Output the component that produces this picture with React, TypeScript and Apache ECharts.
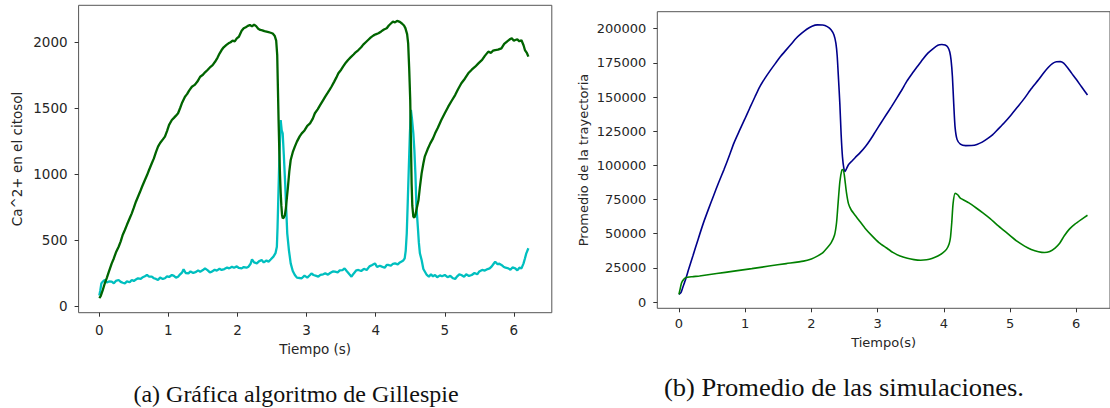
import React, { useEffect, useRef } from "react";
import * as echarts from "echarts";

// ---------- Data: (a) Gillespie stochastic trajectory ----------
const gillespieCytosol: [number, number][] = [
  [0,60],[0.02,75],[0.05,120],[0.08,172],[0.11,215],[0.14,262],[0.18,323],[0.21,360],[0.24,405],[0.28,449],[0.31,490],[0.34,540],[0.37,576],[0.40,615],[0.44,665],[0.47,702],[0.50,745],[0.53,790],[0.56,828],[0.59,865],[0.62,905],[0.66,955],[0.69,990],[0.72,1030],[0.76,1081],[0.79,1118],[0.82,1165],[0.85,1207],[0.88,1235],[0.92,1262],[0.95,1283],[0.98,1325],[1.01,1372],[1.05,1409],[1.08,1425],[1.11,1442],[1.14,1460],[1.17,1500],[1.20,1542],[1.24,1586],[1.27,1605],[1.30,1632],[1.34,1661],[1.38,1675],[1.42,1700],[1.46,1737],[1.50,1752],[1.53,1770],[1.57,1790],[1.61,1812],[1.64,1825],[1.675,1850],[1.71,1880],[1.74,1912],[1.77,1939],[1.80,1960],[1.84,1978],[1.87,1990],[1.90,1998],[1.93,2010],[1.96,2005],[1.99,2028],[2.02,2040],[2.06,2085],[2.09,2104],[2.12,2112],[2.15,2122],[2.18,2129],[2.21,2118],[2.24,2132],[2.27,2120],[2.30,2100],[2.33,2091],[2.36,2088],[2.39,2082],[2.42,2078],[2.45,2074],[2.48,2070],[2.51,2064],[2.54,2045],[2.56,2010],[2.575,1900],[2.585,1650],[2.595,1400],[2.605,1182],[2.615,1000],[2.625,860],[2.635,760],[2.645,690],[2.655,664],[2.67,670],[2.685,685],[2.70,740],[2.715,820],[2.73,900],[2.75,1020],[2.77,1106],[2.80,1165],[2.83,1207],[2.86,1245],[2.90,1285],[2.93,1308],[2.97,1330],[3.01,1365],[3.05,1384],[3.09,1420],[3.12,1460],[3.16,1490],[3.20,1525],[3.24,1560],[3.27,1586],[3.30,1610],[3.33,1635],[3.36,1661],[3.40,1700],[3.43,1730],[3.46,1763],[3.50,1790],[3.53,1815],[3.57,1845],[3.60,1864],[3.64,1885],[3.68,1905],[3.71,1922],[3.75,1939],[3.79,1960],[3.82,1980],[3.86,2000],[3.89,2015],[3.93,2035],[3.97,2050],[4.00,2058],[4.04,2066],[4.08,2080],[4.12,2095],[4.16,2104],[4.19,2125],[4.22,2140],[4.25,2154],[4.28,2148],[4.31,2160],[4.35,2152],[4.38,2140],[4.41,2125],[4.43,2105],[4.455,2060],[4.47,1990],[4.485,1800],[4.50,1561],[4.51,1250],[4.52,929],[4.53,760],[4.545,677],[4.56,670],[4.575,690],[4.59,730],[4.62,803],[4.64,900],[4.665,1005],[4.69,1080],[4.71,1131],[4.75,1185],[4.79,1232],[4.83,1270],[4.86,1308],[4.90,1350],[4.95,1409],[5.00,1460],[5.05,1510],[5.10,1555],[5.15,1598],[5.19,1640],[5.24,1687],[5.29,1722],[5.34,1763],[5.39,1790],[5.44,1813],[5.49,1840],[5.54,1864],[5.58,1895],[5.63,1927],[5.67,1918],[5.70,1935],[5.73,1939],[5.77,1942],[5.80,1948],[5.82,1952],[5.86,1985],[5.90,2003],[5.94,2020],[5.97,2028],[6.00,2010],[6.02,2015],[6.05,2020],[6.08,2005],[6.11,2013],[6.14,1975],[6.16,1939],[6.19,1915],[6.21,1889],
];

const gillespieOther: [number, number][] = [
  [0,80],[0.015,120],[0.03,171],[0.05,185],[0.08,197],[0.11,178],[0.14,186],[0.18,184],[0.21,172],[0.24,190],[0.28,197],[0.31,183],[0.34,176],[0.37,171],[0.40,186],[0.44,180],[0.47,197],[0.50,190],[0.53,200],[0.56,210],[0.60,205],[0.63,218],[0.66,225],[0.69,235],[0.72,222],[0.76,222],[0.79,210],[0.82,205],[0.85,197],[0.88,215],[0.92,205],[0.95,210],[0.98,225],[1.01,220],[1.05,235],[1.08,228],[1.11,215],[1.14,222],[1.17,240],[1.20,255],[1.22,278],[1.25,250],[1.29,247],[1.32,262],[1.36,250],[1.40,258],[1.43,270],[1.46,260],[1.50,272],[1.53,285],[1.57,270],[1.60,255],[1.63,260],[1.67,275],[1.70,268],[1.74,282],[1.77,273],[1.81,280],[1.85,292],[1.88,285],[1.92,298],[1.95,290],[1.99,300],[2.02,288],[2.06,285],[2.09,295],[2.13,290],[2.16,298],[2.19,320],[2.21,354],[2.24,330],[2.28,323],[2.31,338],[2.35,348],[2.38,330],[2.42,345],[2.45,336],[2.48,352],[2.52,374],[2.55,400],[2.57,449],[2.58,600],[2.59,803],[2.605,1100],[2.625,1409],[2.64,1330],[2.654,1308],[2.67,1150],[2.69,929],[2.705,740],[2.72,551],[2.745,420],[2.77,323],[2.80,265],[2.83,235],[2.86,215],[2.90,212],[2.93,210],[2.97,230],[3.01,215],[3.05,235],[3.07,247],[3.10,235],[3.14,228],[3.17,222],[3.20,235],[3.24,240],[3.27,247],[3.31,238],[3.34,250],[3.38,262],[3.41,260],[3.45,255],[3.48,270],[3.52,272],[3.55,285],[3.58,265],[3.62,240],[3.65,222],[3.68,245],[3.72,270],[3.75,273],[3.79,265],[3.83,282],[3.87,273],[3.91,300],[3.95,310],[3.99,323],[4.02,295],[4.06,305],[4.09,298],[4.13,290],[4.16,311],[4.18,311],[4.22,305],[4.25,320],[4.28,323],[4.32,315],[4.35,330],[4.37,336],[4.40,345],[4.42,361],[4.435,420],[4.45,551],[4.465,800],[4.48,1055],[4.495,1300],[4.51,1485],[4.525,1420],[4.545,1308],[4.56,1180],[4.575,1000],[4.59,752],[4.61,600],[4.625,480],[4.64,399],[4.665,348],[4.69,280],[4.74,235],[4.77,222],[4.80,240],[4.83,225],[4.86,235],[4.89,218],[4.93,232],[4.96,225],[5.00,235],[5.04,218],[5.08,228],[5.12,210],[5.15,205],[5.18,225],[5.21,240],[5.24,235],[5.28,222],[5.31,240],[5.35,228],[5.39,235],[5.43,250],[5.47,240],[5.50,262],[5.54,273],[5.58,268],[5.62,280],[5.65,285],[5.68,300],[5.71,322],[5.73,336],[5.76,318],[5.79,320],[5.82,311],[5.85,298],[5.88,290],[5.92,285],[5.95,275],[5.98,292],[6.02,285],[6.05,270],[6.08,290],[6.11,285],[6.14,323],[6.16,360],[6.18,399],[6.21,437],
];

// ---------- Data: (b) average of simulations ----------
const avgBlue: [number, number][] = [
  [0,5600],[0.03,6800],[0.06,11000],[0.10,16500],[0.15,24500],[0.21,33600],[0.29,46000],[0.37,57900],[0.45,68500],[0.52,77400],[0.60,87500],[0.68,96900],[0.76,107000],[0.83,116300],[0.91,125000],[0.99,133400],[1.07,142000],[1.15,150400],[1.22,157500],[1.30,163800],[1.38,169500],[1.46,174800],[1.54,180000],[1.62,184500],[1.70,189000],[1.77,193000],[1.85,196500],[1.93,199600],[2.01,201800],[2.09,202800],[2.17,202700],[2.24,201500],[2.30,199100],[2.34,195500],[2.37,189400],[2.39,180000],[2.41,163000],[2.43,145000],[2.45,122000],[2.47,106000],[2.49,98000],[2.51,95600],[2.53,97500],[2.56,100500],[2.61,103000],[2.66,105600],[2.74,109500],[2.82,114000],[2.90,119500],[2.97,124900],[3.05,131000],[3.13,137000],[3.21,143000],[3.29,149200],[3.37,155500],[3.44,161400],[3.52,167000],[3.60,172300],[3.68,177500],[3.76,182100],[3.84,185500],[3.91,187900],[3.97,188400],[4.02,188000],[4.06,186500],[4.09,183000],[4.11,177000],[4.13,165000],[4.15,145000],[4.17,128000],[4.20,119000],[4.25,115500],[4.33,114400],[4.42,114500],[4.50,115300],[4.58,117000],[4.66,119500],[4.74,122500],[4.82,126500],[4.91,131000],[5.01,136500],[5.11,142500],[5.22,149200],[5.32,156000],[5.43,162600],[5.51,167800],[5.58,171800],[5.64,174500],[5.70,175800],[5.76,175900],[5.81,174800],[5.87,171500],[5.93,167500],[6.00,163000],[6.08,157500],[6.17,151500],
];

const avgGreen: [number, number][] = [
  [0,5600],[0.02,10000],[0.04,14100],[0.07,16500],[0.10,17800],[0.20,18500],[0.31,19000],[0.57,20800],[0.83,22600],[1.10,24400],[1.36,26300],[1.62,28100],[1.88,29900],[2.00,31500],[2.09,33600],[2.17,36000],[2.24,39700],[2.30,43500],[2.35,49000],[2.38,58000],[2.40,70100],[2.43,88000],[2.46,96500],[2.48,97000],[2.50,92000],[2.53,80000],[2.56,72000],[2.60,67500],[2.66,63500],[2.71,60400],[2.81,54000],[2.92,48200],[3.02,43500],[3.13,39700],[3.23,36300],[3.34,33600],[3.45,32000],[3.55,31000],[3.65,30600],[3.74,30900],[3.82,31800],[3.91,33600],[3.98,35800],[4.04,38500],[4.08,42500],[4.10,47000],[4.12,58000],[4.14,72000],[4.17,79500],[4.21,78500],[4.25,76000],[4.38,72500],[4.49,68800],[4.59,65200],[4.70,61000],[4.80,56700],[4.91,52300],[5.01,48200],[5.11,44300],[5.22,40900],[5.32,38500],[5.43,36800],[5.52,36200],[5.60,37000],[5.68,39500],[5.75,43000],[5.82,48500],[5.90,53500],[5.98,57000],[6.08,60500],[6.17,63500],
];

const xTicks = [0, 1, 2, 3, 4, 5, 6];
const yTicksA = [0, 500, 1000, 1500, 2000];
const yTicksB = [0, 25000, 50000, 75000, 100000, 125000, 150000, 175000, 200000];

const captionA = "(a) Gráfica algoritmo de Gillespie";
const captionB = "(b) Promedio de las simulaciones.";

export default function App() {
  const ref = useRef<HTMLDivElement>(null);

  useEffect(() => {
    if (!ref.current) return;
    const chart = echarts.init(ref.current, undefined, { renderer: "svg" });
    const tickColor = "#333";
    const plain = (v: number) => String(v);
    const labelStyle = { fontFamily: "DejaVu Sans", fontSize: 13.5, color: "#262626" };
    const nameStyle = { fontFamily: "DejaVu Sans", fontSize: 13.5, color: "#262626" };

    const xAxisBase = (gridIndex: number, min: number, max: number, name: string, gap: number, fs: number, margin: number) => ({
      type: "value" as const,
      gridIndex,
      min,
      max,
      name,
      nameLocation: "middle" as const,
      nameGap: gap,
      nameTextStyle: { ...nameStyle, fontSize: fs },
      axisLine: { show: false, onZero: false },
      splitLine: { show: false },
      axisTick: { show: true, length: 4, customValues: xTicks, lineStyle: { color: tickColor } },
      axisLabel: { ...labelStyle, fontSize: fs, margin, customValues: xTicks, formatter: plain },
    });

    const yAxisBase = (gridIndex: number, min: number, max: number, ticks: number[], name: string, gap: number, fs: number, margin: number) => ({
      type: "value" as const,
      gridIndex,
      min,
      max,
      name,
      nameLocation: "middle" as const,
      nameGap: gap,
      nameTextStyle: { ...nameStyle, fontSize: fs },
      axisLine: { show: false, onZero: false },
      splitLine: { show: false },
      axisTick: { show: true, length: 4, customValues: ticks, lineStyle: { color: tickColor } },
      axisLabel: { ...labelStyle, fontSize: fs, margin, customValues: ticks, formatter: plain },
    });

    chart.setOption({
      animation: false,
      backgroundColor: "#fff",
      grid: [
        { left: 78.6, top: 5.3, width: 473.2, height: 307.4, show: true, borderColor: "#555", borderWidth: 1, backgroundColor: "transparent" },
        { left: 657.3, top: 11.7, width: 459.5, height: 296.6, show: true, borderColor: "#555", borderWidth: 1, backgroundColor: "transparent" },
      ],
      xAxis: [
        xAxisBase(0, -0.2996, 6.549, "Tiempo (s)", 28, 13.5, 10),
        xAxisBase(1, -0.327, 6.51, "Tiempo(s)", 28, 13, 9),
      ],
      yAxis: [
        yAxisBase(0, -50.8, 2278, yTicksA, "Ca^2+ en el citosol", 55, 13.5, 11),
        yAxisBase(1, -4610, 212440, yTicksB, "Promedio de la trayectoria", 67, 13, 11),
      ],
      series: [
        { type: "line", xAxisIndex: 0, yAxisIndex: 0, data: gillespieOther, showSymbol: false, lineStyle: { color: "#00bfbf", width: 2.3 }, itemStyle: { color: "#00bfbf" } },
        { type: "line", xAxisIndex: 0, yAxisIndex: 0, data: gillespieCytosol, showSymbol: false, lineStyle: { color: "#006400", width: 2.3 }, itemStyle: { color: "#006400" } },
        { type: "line", xAxisIndex: 1, yAxisIndex: 1, data: avgBlue, showSymbol: false, smooth: 0.2, lineStyle: { color: "#00008b", width: 1.6 }, itemStyle: { color: "#00008b" } },
        { type: "line", xAxisIndex: 1, yAxisIndex: 1, data: avgGreen, showSymbol: false, smooth: 0.2, lineStyle: { color: "#008000", width: 1.6 }, itemStyle: { color: "#008000" } },
      ],
      graphic: [
        { type: "text", x: 296, y: 394, scaleX: 1.0, style: { text: captionA, font: '24px "Liberation Serif"', fill: "#111", textAlign: "center", textVerticalAlign: "middle" } },
        { type: "text", x: 844, y: 388, scaleX: 1.02, style: { text: captionB, font: '26px "Liberation Serif"', fill: "#111", textAlign: "center", textVerticalAlign: "middle" } },
      ],
    });
    return () => chart.dispose();
  }, []);

  return (
    <div
      ref={ref}
      style={{ position: "fixed", left: 0, top: 0, width: 1110, height: 408, background: "#fff" }}
    />
  );
}
